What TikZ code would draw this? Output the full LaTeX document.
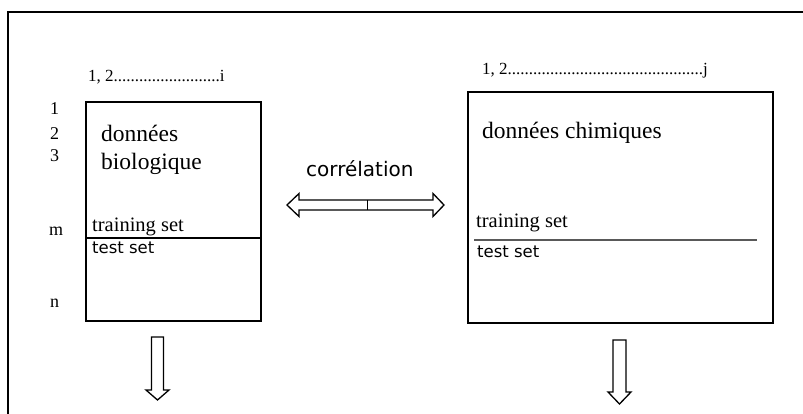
\documentclass[tikz,border=0pt]{standalone}
\usepackage{fontspec}
\usetikzlibrary{calc}
\setmainfont{Liberation Serif}
\newfontfamily\sansf{DejaVu Sans}
\begin{document}
\begin{tikzpicture}[x=1pt,y=-1pt,
  databox/.style={draw,line width=1.8pt,rectangle,inner sep=0pt},
  lbl/.style={anchor=base west,inner sep=0pt},
  idx/.style={lbl,font=\fontsize{17}{20}\selectfont},
  rowlbl/.style={lbl,font=\fontsize{18}{20}\selectfont},
  title/.style={lbl,font=\fontsize{23.5}{28}\selectfont},
  trainlbl/.style={lbl,font=\fontsize{20.5}{24}\selectfont},
  testlbl/.style={lbl,font=\sansf\fontsize{16.5}{20}\selectfont},
  blockarrow/.style={draw,line width=1.3pt,fill=white,line join=miter}
]
\useasboundingbox (0,0) rectangle (803,414);
% outer frame (runs past the right and bottom edges)
\draw[line width=2pt] (803,12) -- (7.5,12) -- (7.5,414);

% biological data block
\node[databox,minimum width=175pt,minimum height=219pt] (bio) at (173.5,211.5) {};
\draw[line width=1.6pt] (bio.west |- 0,238) -- (bio.east |- 0,238);
\node[idx] (bcols) at (88,82) {1, 2.........................i};
\node[rowlbl] (r1) at (50,115) {1};
\node[rowlbl] (r2) at (50,140) {2};
\node[rowlbl] (r3) at (50,162) {3};
\node[rowlbl] (rm) at (49,236) {m};
\node[rowlbl] (rn) at (50,307) {n};
\node[title] (bt1) at (101,142) {données};
\node[title] (bt2) at (101,170) {biologique};
\node[trainlbl] (btrain) at (92,232) {training set};
\node[testlbl] (btest) at (92,253) {test set};

% chemical data block
\node[databox,minimum width=305pt,minimum height=231pt] (chem) at (620.5,207.5) {};
\draw[line width=1.5pt,black!65] (474,240) -- (757,240);
\node[idx] (ccols) at (482,75) {1, 2..............................................j};
\node[title] (ct) at (482,139) {données chimiques};
\node[trainlbl] (ctrain) at (476,228) {training set};
\node[testlbl] (ctest) at (477,257) {test set};

% correlation double arrow
\node[lbl,font=\sansf\fontsize{20}{24}\selectfont] (corr) at (306,177) {corrélation};
\coordinate (cl) at (287,205);
\coordinate (cr) at (444,205);
\draw[blockarrow] (cl) -- ++(12,-11.5) -- ++(0,6.5) -- ($(cr)+(-11,-5)$) -- ++(0,-6.5)
  -- (cr) -- ++(-11,11.5) -- ++(0,-6.5) -- ($(cl)+(12,5)$) -- ++(0,6.5) -- cycle;
\draw[line width=1pt] (367,200) -- (367,210);

% downward block arrows under each block
\coordinate (ltip) at (157.5,400);
\draw[blockarrow] (ltip) -- ++(-11.5,-10) -- ++(5.5,0) -- ++(0,-53) -- ++(12,0)
  -- ++(0,53) -- ++(5.5,0) -- cycle;
\coordinate (rtip) at (619.5,404);
\draw[blockarrow] (rtip) -- ++(-11.5,-12) -- ++(5,0) -- ++(0,-52) -- ++(13,0)
  -- ++(0,52) -- ++(5,0) -- cycle;
\end{tikzpicture}
\end{document}
